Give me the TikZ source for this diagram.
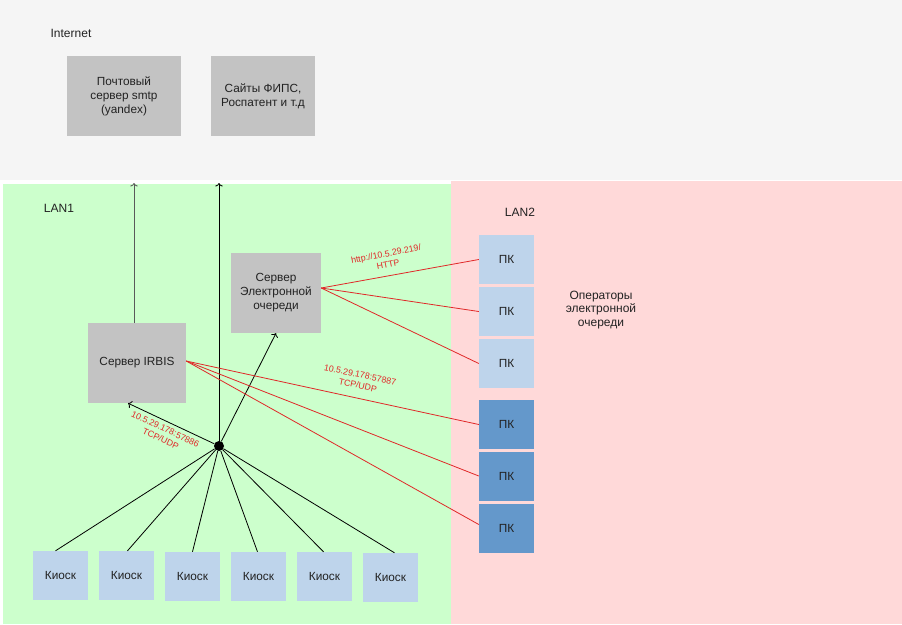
\documentclass[tikz,border=0pt]{standalone}
\usepackage{fontspec}
\setmainfont{Liberation Sans}
\usetikzlibrary{shapes,arrows,arrows.meta,positioning}

\definecolor{NetGray}{HTML}{F5F5F5}
\definecolor{LanGreen}{HTML}{CCFFCC}
\definecolor{LanPink}{HTML}{FFD9D9}
\definecolor{BoxGray}{HTML}{C3C3C3}
\definecolor{PcLight}{HTML}{BED4EB}
\definecolor{PcDark}{HTML}{6498CB}
\definecolor{LinkRed}{HTML}{E02828}
\definecolor{TextDark}{HTML}{222222}

\begin{document}
\begin{tikzpicture}[x=1pt, y=-1pt, >={To[length=3.5pt,width=7.5pt]}]
				\tikzstyle{Box}		= [rectangle, inner sep=0pt, align=center, text=TextDark, font=\fontsize{11.8}{14}\selectfont]
				\tikzstyle{Server}	= [Box, fill=BoxGray]
				\tikzstyle{Kiosk}	= [Box, fill=PcLight, minimum width=55pt, minimum height=49pt]
				\tikzstyle{PcQueue}	= [Box, fill=PcLight, minimum width=55pt, minimum height=49pt]
				\tikzstyle{PcIrbis}	= [Box, fill=PcDark, minimum width=55pt, minimum height=49pt]
				\tikzstyle{Zone}		= [text=TextDark, font=\fontsize{12}{14}\selectfont, align=center]
				\tikzstyle{Proto}	= [text=LinkRed, font=\fontsize{8.8}{10.8}\selectfont, align=center, inner sep=0pt]
				\tikzstyle{Wire}		= [black, line width=0.8pt]
				\tikzstyle{Uplink}	= [black!65, line width=0.8pt]
				\tikzstyle{RedLink}	= [LinkRed, line width=0.8pt]

				\useasboundingbox (0,0) rectangle (902,624);
				\fill [white] (0,0) rectangle (902,624);
				\fill [NetGray] (0,0) rectangle (902,180);
				\fill [LanGreen] (3,184) rectangle (451,624);
				\fill [LanPink] (451,181) rectangle (902,624);

				\node (internet) at (71,33) [Zone] {Internet};
				\node (lan1) at (59,208) [Zone] {LAN1};
				\node (lan2) at (520,212) [Zone] {LAN2};
				\node (operators) at (601,310) [Zone, font=\fontsize{12}{13.5}\selectfont] {Операторы\\электронной\\очереди};

				\node (smtp) at (124,96) [Server, minimum width=114pt, minimum height=80pt] {Почтовый\\сервер smtp\\(yandex)};
				\node (fips) at (263,96) [Server, minimum width=104pt, minimum height=80pt] {Сайты ФИПС,\\Роспатент и т.д};
				\node (irbis) at (137,363) [Server, minimum width=98pt, minimum height=80pt] {Сервер IRBIS};
				\node (ochered) at (276,293) [Server, minimum width=90pt, minimum height=80pt] {Сервер\\Электронной\\очереди};

				\node (pc1) at (506.5,259.5) [PcQueue] {ПК};
				\node (pc2) at (506.5,311.5) [PcQueue] {ПК};
				\node (pc3) at (506.5,363.5) [PcQueue] {ПК};
				\node (pc4) at (506.5,424.5) [PcIrbis] {ПК};
				\node (pc5) at (506.5,476.0) [PcIrbis] {ПК};
				\node (pc6) at (506.5,528.5) [PcIrbis] {ПК};

				\node (k1) at (60.5,575.5) [Kiosk] {Киоск};
				\node (k2) at (126.5,575.5) [Kiosk] {Киоск};
				\node (k3) at (192.5,576.5) [Kiosk] {Киоск};
				\node (k4) at (258.5,576.5) [Kiosk] {Киоск};
				\node (k5) at (324.5,576.5) [Kiosk] {Киоск};
				\node (k6) at (390.5,577.5) [Kiosk] {Киоск};

				\node (hub) at (219,446) [circle, fill=black, inner sep=0pt, minimum size=10pt] {};
				\coordinate (up1) at (134,183);
				\coordinate (up2) at (219,183);

				% uplinks to internet
				\draw [->] (irbis.north -| up1) to (up1) [Uplink];
				\draw [->] (hub.center) to (up2) [Wire];

				% kiosks to hub
				\draw [-] (hub) to ([xshift=-5pt]k1.north) [Wire];
				\draw [-] (hub) to ([xshift=1pt]k2.north) [Wire];
				\draw [-] (hub) to (k3.north) [Wire];
				\draw [-] (hub) to ([xshift=-1pt]k4.north) [Wire];
				\draw [-] (hub) to ([xshift=-1pt]k5.north) [Wire];
				\draw [-] (hub) to ([xshift=4pt]k6.north) [Wire];

				\draw [->] (hub) to (ochered.south) [Wire];
				\draw [->] (hub) to ([xshift=-9pt]irbis.south) [Wire];

				% queue server to LAN2
				\draw [-] ([yshift=5pt]ochered.east) to (pc1.west) [RedLink];
				\draw [-] ([yshift=5pt]ochered.east) to (pc2.west) [RedLink];
				\draw [-] ([yshift=5pt]ochered.east) to (pc3.west) [RedLink];

				% irbis to LAN2
				\draw [-] ([yshift=2pt]irbis.east) to (pc4.west) [RedLink];
				\draw [-] ([yshift=2pt]irbis.east) to (pc5.west) [RedLink];
				\draw [-] ([yshift=2pt]irbis.east) to ([yshift=4pt]pc6.west) [RedLink];

				\node (httplabel) at (387,259) [Proto, rotate=11] {http://10.5.29.219/\\HTTP};
				\node (irbislabel) at (359,380) [Proto, rotate=-12] {10.5.29.178:57887\\TCP/UDP};
				\node (kiosklabel) at (163,434) [Proto, rotate=-25] {10.5.29.178:57886\\TCP/UDP};
			\end{tikzpicture}
\end{document}
